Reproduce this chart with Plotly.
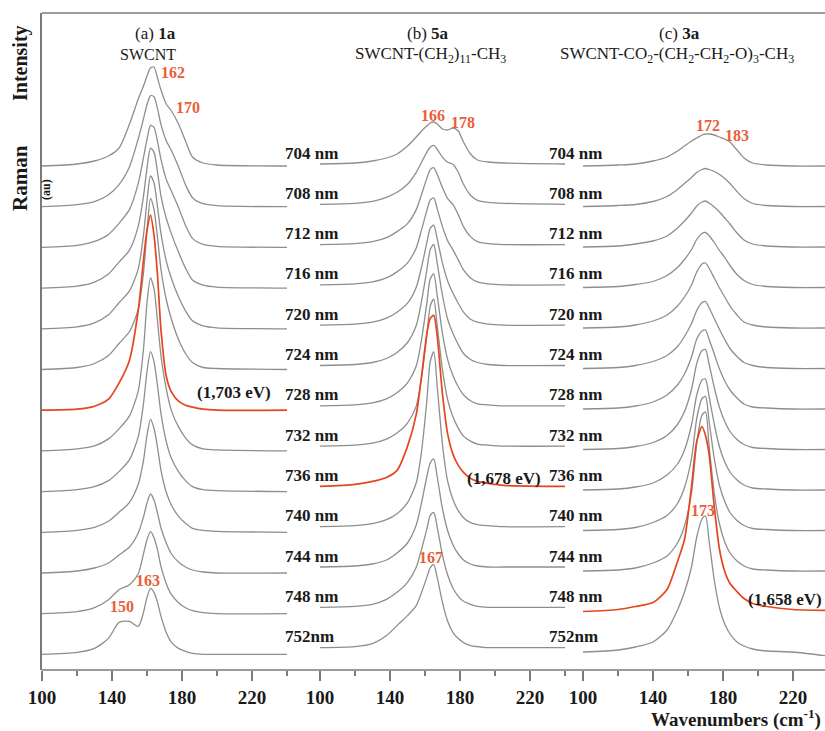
import plotly.graph_objects as go

# ---------------- data ----------------
WAVELENGTHS = [704, 708, 712, 716, 720, 724, 728, 732, 736, 740, 744, 748, 752]
ROW_LABELS = ["704 nm", "708 nm", "712 nm", "716 nm", "720 nm", "724 nm", "728 nm",
              "732 nm", "736 nm", "740 nm", "744 nm", "748 nm", "752nm"]

# Panel (a) 1a SWCNT : wavenumber grid and intensities (a.u.) per excitation line
W_A = [100, 120, 130, 138, 144, 150, 155, 158, 160, 162, 164, 166, 168, 171, 174, 178, 182, 186, 192, 200, 240]
A_ROWS = [
    [0, 2, 5, 10, 18, 42, 67, 80, 90, 98, 99, 88, 76, 62, 55, 42, 25, 9, 3, 1, 0],          # 704
    [0, 2, 5, 12, 22, 40, 68, 88, 102, 111, 110, 98, 82, 66, 56, 40, 22, 9, 3, 1, 0],      # 708
    [0, 2, 6, 13, 24, 38, 64, 90, 108, 122, 120, 106, 88, 68, 56, 40, 22, 9, 3, 1, 0],     # 712
    [0, 2, 6, 14, 26, 38, 62, 92, 120, 140, 136, 116, 92, 70, 54, 36, 20, 8, 3, 1, 0],     # 716
    [0, 2, 6, 14, 26, 38, 60, 94, 128, 153, 146, 122, 95, 68, 50, 32, 18, 8, 3, 1, 0],     # 720
    [0, 2, 6, 14, 26, 38, 60, 97, 138, 171, 160, 132, 100, 70, 50, 30, 16, 7, 2, 1, 0],    # 724
    [0, 1, 4, 11, 27, 50, 100, 150, 180, 195, 175, 135, 80, 34, 18, 9, 5, 3, 1, 0, 0],     # 728
    [0, 2, 5, 12, 22, 35, 60, 102, 148, 173, 162, 130, 95, 62, 40, 24, 13, 6, 2, 1, 0],    # 732
    [0, 2, 5, 11, 20, 32, 55, 88, 120, 140, 130, 106, 78, 50, 33, 20, 11, 5, 2, 1, 0],     # 736
    [0, 2, 5, 11, 20, 30, 48, 72, 97, 113, 104, 85, 62, 40, 27, 16, 9, 4, 2, 1, 0],        # 740
    [0, 2, 5, 10, 18, 26, 40, 56, 70, 79, 73, 60, 45, 30, 19, 11, 6, 3, 1, 0, 0],          # 744
    [0, 2, 6, 14, 24, 29, 40, 60, 74, 82, 76, 64, 47, 30, 19, 11, 6, 3, 1, 0, 0],          # 748
    [0, 2, 6, 16, 32, 33, 28, 42, 57, 66, 62, 52, 38, 22, 12, 6, 3, 1, 0, 0, 0],           # 752
]

# Panel (b) 5a SWCNT-(CH2)11-CH3
W_B = [100, 120, 130, 138, 144, 150, 155, 158, 161, 163, 165, 167, 170, 173, 176, 179, 182, 186, 190, 196, 205, 240]
B_ROWS = [
    [0, 1, 3, 6, 10, 18, 27, 33, 38, 41, 42, 40, 35, 34, 36, 33, 22, 10, 4, 2, 1, 0],
    [0, 1, 3, 7, 12, 20, 32, 42, 52, 57, 59, 55, 47, 42, 40, 32, 20, 9, 4, 2, 1, 0],
    [0, 1, 3, 7, 13, 21, 35, 50, 66, 75, 77, 70, 57, 46, 40, 30, 18, 8, 3, 1, 0, 0],
    [0, 1, 3, 7, 13, 22, 37, 55, 74, 85, 87, 76, 58, 44, 35, 25, 15, 7, 3, 1, 0, 0],
    [0, 1, 3, 7, 13, 22, 38, 58, 82, 97, 100, 86, 62, 44, 32, 22, 13, 6, 3, 1, 0, 0],
    [0, 1, 3, 7, 13, 23, 40, 64, 95, 116, 121, 102, 70, 46, 32, 21, 12, 6, 3, 1, 0, 0],
    [0, 1, 3, 7, 13, 23, 40, 66, 102, 127, 132, 110, 72, 46, 30, 19, 11, 5, 2, 1, 0, 0],
    [0, 1, 3, 7, 13, 23, 40, 68, 110, 140, 147, 120, 76, 46, 29, 18, 10, 5, 2, 1, 0, 0],
    [0, 2, 5, 9, 16, 40, 72, 110, 152, 168, 171, 150, 92, 52, 32, 21, 14, 8, 5, 3, 1, 0],
    [0, 1, 3, 7, 13, 24, 44, 75, 125, 165, 175, 140, 82, 45, 27, 16, 9, 4, 2, 1, 0, 0],
    [0, 1, 3, 7, 14, 24, 42, 64, 90, 104, 108, 90, 58, 36, 22, 13, 7, 3, 1, 0, 0, 0],
    [0, 1, 3, 8, 15, 25, 40, 58, 78, 92, 95, 80, 52, 32, 19, 11, 6, 3, 1, 0, 0, 0],
    [0, 1, 4, 12, 22, 32, 42, 55, 70, 80, 83, 70, 45, 26, 15, 9, 5, 2, 1, 0, 0, 0],
]

# Panel (c) 3a SWCNT-CO2-(CH2-CH2-O)3-CH3
W_C = [100, 120, 130, 140, 148, 154, 158, 162, 165, 168, 170, 172, 175, 178, 181, 184, 188, 192, 197, 205, 220, 240]
C_ROWS = [
    [0, 1, 2, 5, 9, 15, 20, 25, 28, 31, 32, 32, 31, 29, 27, 24, 16, 8, 3, 1, 0, 0],
    [0, 1, 2, 5, 10, 17, 23, 29, 34, 37, 38, 37, 35, 32, 28, 23, 15, 8, 3, 1, 0, 0],
    [0, 1, 3, 6, 11, 19, 26, 34, 41, 45, 46, 44, 40, 35, 29, 23, 14, 7, 3, 1, 0, 0],
    [0, 1, 3, 6, 12, 20, 28, 38, 48, 54, 55, 52, 45, 37, 30, 22, 13, 7, 3, 1, 0, 0],
    [0, 1, 3, 7, 13, 22, 31, 43, 56, 64, 65, 60, 50, 40, 31, 22, 13, 6, 3, 1, 0, 0],
    [0, 1, 3, 7, 13, 22, 32, 45, 58, 66, 67, 61, 50, 39, 29, 20, 12, 6, 3, 1, 0, 0],
    [0, 1, 3, 7, 14, 24, 35, 52, 70, 78, 79, 70, 55, 40, 28, 19, 11, 5, 2, 1, 0, 0],
    [0, 1, 3, 7, 14, 25, 38, 60, 86, 99, 100, 86, 62, 42, 28, 18, 10, 5, 2, 1, 0, 0],
    [0, 1, 3, 7, 15, 26, 40, 65, 95, 110, 111, 94, 66, 43, 28, 18, 10, 5, 2, 1, 0, 0],
    [0, 1, 3, 8, 15, 27, 43, 72, 112, 132, 134, 110, 72, 45, 29, 18, 10, 5, 2, 1, 0, 0],
    [0, 1, 3, 8, 15, 28, 45, 78, 128, 156, 159, 126, 78, 47, 29, 18, 10, 5, 2, 1, 0, 0],
    [0, 2, 5, 9, 22, 50, 72, 125, 170, 185, 176, 158, 105, 62, 40, 28, 20, 13, 8, 5, 2, 1],
    [0, 2, 5, 10, 22, 42, 60, 85, 115, 133, 136, 112, 72, 44, 28, 18, 10, 6, 3, 1, 0, -4],
]

RESONANT = {"a": 6, "b": 8, "c": 11}   # highlighted rows (728, 736, 748 nm)
TICKS = [100, 140, 180, 220]
MINOR = [120, 160, 200, 240]

# ---------------- layout helpers ----------------
W, H = 825, 731
L, R, T, B = 42, 0, 13, 61
PW, PH = W - L - R, H - T - B
SCALE = 1.75  # px per cm-1


def px(x, y):
    return (x - L) / PW, (H - B - y) / PH


def dom(x0, x1):
    return [(x0 - L) / PW, (x1 - L) / PW]


GRAY = "#8e8e8e"
RED = "#e5461f"
RED_TXT = "#e8603a"
AXC = "#7a7a7a"
FONT = "Liberation Serif"

panels = [
    ("a", "x", W_A, A_ROWS, 166, 40.7),
    ("b", "x2", W_B, B_ROWS, 164, 40.3),
    ("c", "x3", W_C, C_ROWS, 166, 40.5),
]

fig = go.Figure()
for key, xa, grid, rows, base0, step in panels:
    order = [i for i in range(len(rows)) if i != RESONANT[key]] + [RESONANT[key]]
    for i in order:
        off = (H - B) - (base0 + step * i)
        red = i == RESONANT[key]
        fig.add_trace(go.Scatter(
            x=grid, y=[off + v for v in rows[i]], xaxis=xa, yaxis="y",
            mode="lines", line=dict(color=RED if red else GRAY, width=1.7 if red else 1.3,
                                    shape="spline", smoothing=0.7),
            hoverinfo="skip", showlegend=False))

xcommon = dict(range=[100, 240], tickmode="array", tickvals=TICKS, ticks="outside",
               ticklen=10, tickwidth=1.5, tickcolor=AXC, showline=False, showgrid=False,
               zeroline=False, anchor="y",
               tickfont=dict(family=FONT, size=19, color="#1a1a1a", weight="bold"),
               minor=dict(tickmode="array", tickvals=MINOR, ticks="outside", ticklen=5,
                          tickwidth=1.5, tickcolor=AXC, showgrid=False))

fig.update_layout(
    width=W, height=H, margin=dict(l=L, r=R, t=T, b=B),
    paper_bgcolor="white", plot_bgcolor="white",
    xaxis=dict(domain=dom(42, 287), **xcommon),
    xaxis2=dict(domain=dom(320, 565), **xcommon),
    xaxis3=dict(domain=dom(583, 825), **{**xcommon, "range": [100, 100 + (825 - 583) / SCALE]}),
    yaxis=dict(range=[0, PH], showticklabels=False, ticks="", showgrid=False, zeroline=False,
               showline=True, linecolor=AXC, linewidth=1.5),
    shapes=[
        dict(type="line", xref="paper", yref="paper", x0=0, x1=1, y0=0, y1=0,
             line=dict(color=AXC, width=1.5)),
        dict(type="line", xref="paper", yref="paper", x0=0, x1=1, y0=1, y1=1,
             line=dict(color=AXC, width=1.5)),
    ],
)

ann = []


def text(x, y, s, size=17, color="#1a1a1a", bold=True, xanchor="center", angle=0):
    ax, ay = px(x, y)
    ann.append(dict(x=ax, y=ay, xref="paper", yref="paper", text=s, showarrow=False,
                    xanchor=xanchor, yanchor="middle", textangle=angle,
                    font=dict(family=FONT, size=size, color=color,
                              weight="bold" if bold else "normal")))


# wavelength labels
for i, lab in enumerate(ROW_LABELS):
    y = 153 + 40.3 * i
    text(283, y, lab, xanchor="left")
    text(547, y, lab, xanchor="left")

# panel titles
text(155, 33, "(a) <b>1a</b>", size=17, bold=False)
text(148, 54, "SWCNT", size=16, bold=False)
text(428, 33, "(b) <b>5a</b>", size=17, bold=False)
text(430, 55, "SWCNT-(CH<sub>2</sub>)<sub>11</sub>-CH<sub>3</sub>", size=17, bold=False)
text(679, 33, "(c) <b>3a</b>", size=17, bold=False)
text(677, 55, "SWCNT-CO<sub>2</sub>-(CH<sub>2</sub>-CH<sub>2</sub>-O)<sub>3</sub>-CH<sub>3</sub>",
     size=17, bold=False)

# peak labels
for x, y, s in [(173, 72, "162"), (188, 107, "170"), (148, 580, "163"), (122, 606, "150"),
                (433, 115, "166"), (463, 122, "178"), (431, 557, "167"),
                (708, 125, "172"), (737, 135, "183"), (703, 510, "173")]:
    text(x, y, s, size=16, color=RED_TXT)

# resonance energies
text(273, 392, "(1,703 eV)", xanchor="right")
text(543, 478, "(1,678 eV)", xanchor="right")
text(824, 599, "(1,658 eV)", xanchor="right")

# axis titles
text(20, 63, "Intensity", size=20, angle=-90)
text(20, 178, "Raman", size=21, angle=-90)
text(46, 190, "(au)", size=12, angle=-90)
text(823, 718, "Wavenumbers (cm<sup>-1</sup>)", size=19, xanchor="right")

fig.update_layout(annotations=ann)
fig.write_html("out.html")
